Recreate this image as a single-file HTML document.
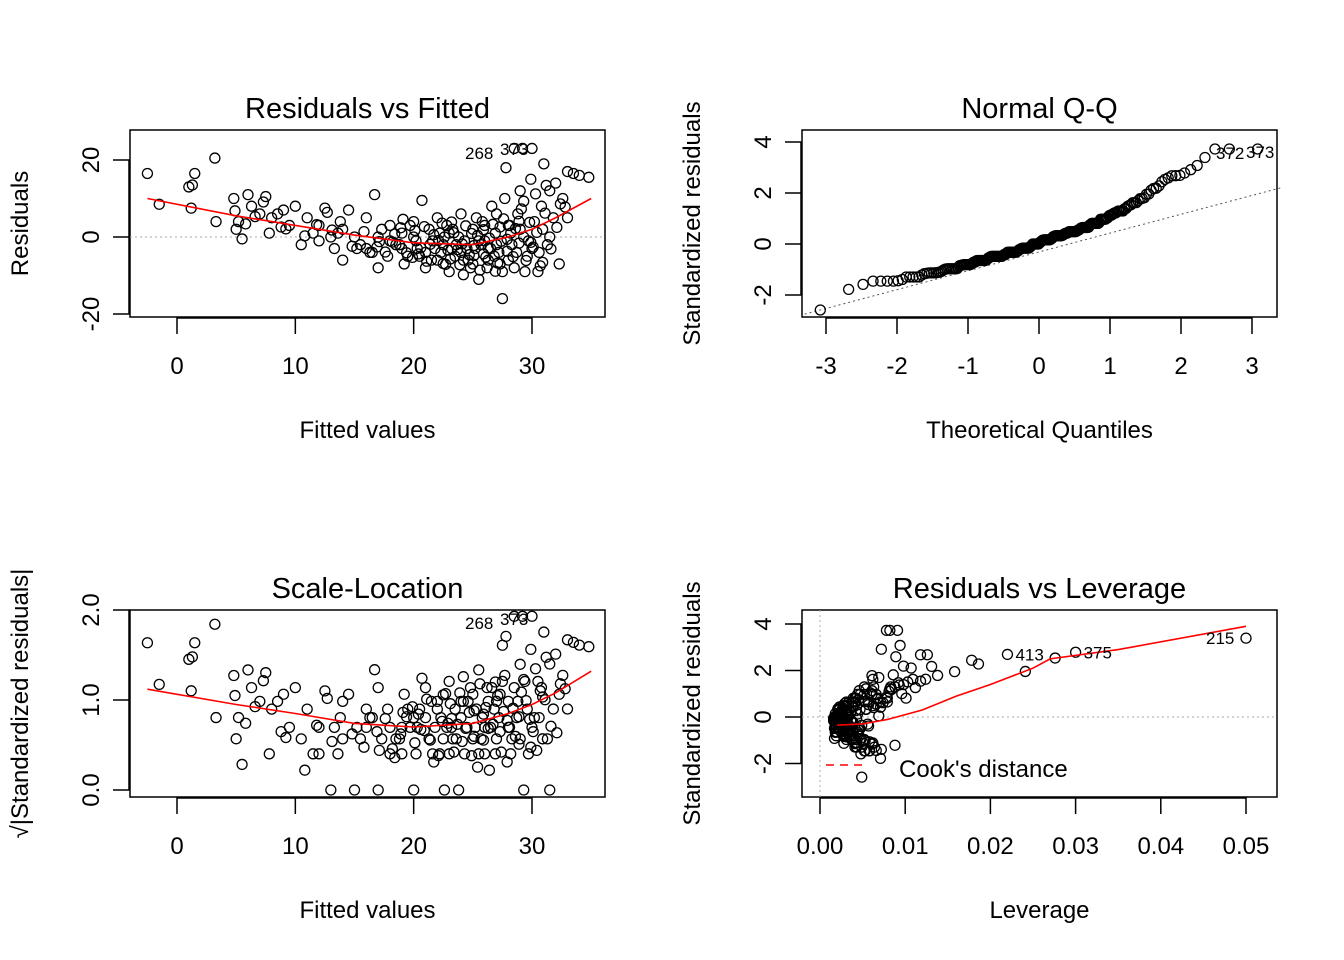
<!DOCTYPE html>
<html><head><meta charset="utf-8"><style>
html,body{margin:0;padding:0;background:#fff;width:1344px;height:960px;overflow:hidden}
svg{display:block;font-family:"Liberation Sans",Arial,sans-serif}
</style></head><body>
<svg id="chart" width="1344" height="960" viewBox="0 0 1344 960"></svg>
<script>
const fittedA=[-2.5,-1.5,1,1.3,1.5,1.2,3.2,3.3,4.8,5,5.2,5.5,6,6.3,7,7.5,7.8,8,8.5,9,9.5,10,10.5,11,11.5,12,12.5,13,13.3,13.8,14,14.5,15,15.5,16,16.3,16.7,17,17.3,17.8,18,18.5,19,19.2,19.7,20,20.3,20.7,21,21.3,21.6,22,22.3,22.6,23,23.3,23.6,24,24.3,24.6,25,25.2,25.5,25.8,26,26.3,26.6,26.9,27.2,27.5,27.7,28,28.3,28.5,28.8,29,29.3,29.6,29.9,30.2,30.5,30.8,31,31.3,31.5,31.8,32,32.3,32.6,33,33.5,34,34.8,33,31.5,30,28,26,24,22,20,18,16,14,12,17,19,21,23,25,27,29,27.8,28.5,29.2,30,20.5,21.5,22.5,23.5,24.5,25.5,26.5,27.5,24.8,23.8,26.2,28.2,29.4,30.6,22.8,21.8,25.3,27,28.7,18.8,19.5,20.2,22.2,23.2,24.2,25.7,26.8,27.3,28.1,29.7,30.9,16.5,15.2,13.6];
const residA=[16.5,8.5,13,13.5,16.5,7.5,20.5,4,10,2,4,-0.5,11,8,6,10.5,1,5,6,7,3,8,-2,5,1,-1,7.5,0,-3,4,-6,7,0,-2,5,-4,11,-8,2,-5,3,-2,1,-7,3,0,-3,9.5,-8,2,-1,5,-4,0,-9,2,-2,6,-1,-6,2,-3,-11,4,-1,-6,8,1,-4,-16,10,3,-2,-8,6,12,0,-5,15,4,-9,8,19,-2,12,5,14,-7,10,17,16.5,16,15.5,5,0,-3,-6,3,-4,-6,4,-1,-3,2,3,0,-3,-4,1,-7,-2,2,18,23,23,23,-5,-6,-2,-5,-3,-1,-3,-9,-8,0,-8,1,-9,-4,3,-3,5,6,-4,-2,-5,-1,1,-3,-6,-2,-5,-7,3,-1,2,-4,-3,1];
const leverageA=[0.0118,0.0093,0.0107,0.0098,0.0126,0.0082,0.05,0.0071,0.0062,0.0054,0.0079,0.0043,0.0061,0.0052,0.0044,0.0069,0.0033,0.0041,0.0052,0.0046,0.0031,0.0063,0.0027,0.0041,0.0022,0.0031,0.0054,0.0019,0.0028,0.0039,0.0052,0.0061,0.0021,0.0029,0.0042,0.0034,0.0138,0.0064,0.0023,0.0038,0.0031,0.0018,0.0024,0.0051,0.0029,0.0017,0.0027,0.0118,0.0043,0.0021,0.0016,0.0039,0.0031,0.0019,0.0058,0.0022,0.0026,0.0047,0.0018,0.0037,0.0029,0.0021,0.0071,0.0042,0.0017,0.0031,0.0088,0.0023,0.0038,0.0049,0.0109,0.0031,0.0021,0.0043,0.0061,0.0158,0.0028,0.0039,0.0178,0.0057,0.0052,0.0083,0.0094,0.0031,0.0241,0.0068,0.0186,0.0042,0.0124,0.03,0.022,0.0089,0.0276,0.0101,0.0033,0.0041,0.0048,0.0029,0.0019,0.0037,0.0031,0.0022,0.0018,0.0026,0.0039,0.0021,0.0017,0.0032,0.0024,0.0041,0.0033,0.0021,0.0072,0.0078,0.0082,0.0091,0.0029,0.0038,0.0023,0.0034,0.0019,0.0028,0.0022,0.0058,0.0049,0.0018,0.0041,0.0032,0.0053,0.0044,0.0027,0.0021,0.0079,0.0066,0.0033,0.0024,0.0029,0.0017,0.0032,0.0023,0.0041,0.0031,0.0019,0.0028,0.0062,0.0021,0.0047,0.0039,0.0028,0.0023];
const fittedB=[18.2,18.9,19.4,20.1,20.6,21.1,21.7,22.1,22.4,22.9,23.1,23.4,23.9,24.1,24.4,24.7,25.1,25.4,25.6,25.9,26.1,26.4,26.7,27.1,27.4,27.6,27.9,28.4,28.6,28.9,29.1,29.5,29.8,30.1,30.4,30.7,31.1,31.6,32.1,32.8,15.8,16.9,17.6,18.4,19.9,20.9,21.4,22.7,23.7,24.9,25.9,26.9,27.9,28.9,29.9,30.9,24.2,25.1,26.3,27.3,22.5,23.2,20.4,19.1,17.1,14.8,13.1,11.8,10.8,9.2,6.6,5.8,4.9,7.3,8.8,12.7,29.3,30.3,31.2,32.4];
const residB=[-1.3,2.4,-4.1,1.7,-2.8,-6.3,0.6,-0.9,3.6,-3.4,-5.7,1.1,-7.2,-1.8,2.9,-4.6,-2.2,0.4,-8.6,1.9,-5.2,-0.3,3.3,-6.8,-1.1,4.7,-3.7,-5.1,2.2,-1.6,7.3,-6.1,3.8,-2.6,1.2,-7.5,6.2,-3.1,2.5,7.8,1.4,-2.6,-3.9,0.8,-5.3,2.7,-1.9,-7.1,-3.3,0.9,-4.4,-8.9,-0.6,4.1,-1.4,-6.6,-9.8,-4.8,-2.9,2.6,-6.9,3.9,-4.4,4.6,-1.2,-2.4,1.8,3.2,0.3,2.1,5.3,3.4,6.8,9.1,2.6,6.4,9.3,11.2,13.4,8.6];
const leverageB=[0.0024,0.0031,0.0018,0.0042,0.0027,0.0053,0.0021,0.0036,0.0029,0.0045,0.0017,0.0033,0.0061,0.0022,0.0038,0.0026,0.0049,0.0019,0.0072,0.0034,0.0028,0.0016,0.0057,0.0043,0.0025,0.0067,0.0032,0.0046,0.0021,0.0039,0.0084,0.0051,0.0074,0.0029,0.0036,0.0088,0.0096,0.0047,0.0063,0.0112,0.0026,0.0035,0.0019,0.0044,0.0031,0.0023,0.0056,0.0041,0.0027,0.0018,0.0033,0.0066,0.0024,0.0052,0.0037,0.0058,0.0048,0.0029,0.0021,0.0039,0.0062,0.0034,0.0027,0.0045,0.0038,0.0057,0.0031,0.0043,0.0069,0.0054,0.0078,0.0066,0.0081,0.0092,0.0071,0.0059,0.0103,0.0086,0.0131,0.0098];
const labelIdx={6:"215",89:"375",90:"413"};
const loess1x=[-2.5,5,10,15,20,25,28,30,32,35];
const loess1y=[10,5.5,3,0.5,-1.5,-2,0,2,5,10];
const loess3x=[-2.5,5,10,15,20,25,28,30,32,35];
const loess3y=[1.12,0.95,0.85,0.74,0.7,0.74,0.85,0.95,1.08,1.32];
const loess4x=[0.002,0.005,0.008,0.012,0.016,0.02,0.025,0.027,0.035,0.05];
const loess4y=[-0.35,-0.3,-0.1,0.3,0.9,1.4,2.1,2.5,2.9,3.9];
const xTicks1=[0,10,20,30], yTicks1=[-20,0,20];
const xTicks2=[-3,-2,-1,0,1,2,3], yTicks2=[-2,0,2,4];
const yTicks3=[0.0,1.0,2.0];
const xTicks4=[0,0.01,0.02,0.03,0.04,0.05], yTicks4=[-2,0,2,4];
const sigma=6.2;

const fitted=fittedA.concat(fittedB), resid=residA.concat(residB), leverage=leverageA.concat(leverageB);
const svg=document.getElementById('chart');
const NS='http://www.w3.org/2000/svg';
function el(tag,attrs,parent,text){const e=document.createElementNS(NS,tag);for(const k in attrs)e.setAttribute(k,attrs[k]);if(text!==undefined)e.textContent=text;(parent||svg).appendChild(e);return e;}
function lin(d0,d1,r0,r1){return v=>r0+(v-d0)*(r1-r0)/(d1-d0);}

const lv=fitted.map((f,i)=>leverage[i]||0.004);
const stdr=resid.map((r,i)=>r/(sigma*Math.sqrt(1-lv[i])));

function panel(name,box,sx,sy,xt,yt,xfmt,yfmt,title,xlab,ylab){
  const g=el('g',{},svg);
  
  
  const t=el('text',{x:(box[0]+box[2])/2,y:box[1]-12,'text-anchor':'middle','font-size':29},g,title);
  
  const r=el('rect',{x:box[0],y:box[1],width:box[2]-box[0],height:box[3]-box[1],fill:'none',stroke:'#000','stroke-width':1.5},g);
  
  const xa=el('g',{},g);
  el('line',{x1:sx(xt[0]),x2:sx(xt[xt.length-1]),y1:box[3]+1,y2:box[3]+1,stroke:'#000','stroke-width':1.5},xa);
  xt.forEach(v=>{el('line',{x1:sx(v),x2:sx(v),y1:box[3],y2:box[3]+17,stroke:'#000','stroke-width':1.5},xa);
    el('text',{x:sx(v),y:box[3]+57,'text-anchor':'middle','font-size':24},xa,xfmt(v));});
  const ya=el('g',{},g);
  el('line',{x1:box[0]-1,x2:box[0]-1,y1:sy(yt[0]),y2:sy(yt[yt.length-1]),stroke:'#000','stroke-width':1.5},ya);
  yt.forEach(v=>{el('line',{x1:box[0]-17,x2:box[0],y1:sy(v),y2:sy(v),stroke:'#000','stroke-width':1.5},ya);
    el('text',{x:0,y:0,'text-anchor':'middle','font-size':24,transform:`translate(${box[0]-31},${sy(v)}) rotate(-90)`},ya,yfmt(v));});
  const xl=el('text',{x:(box[0]+box[2])/2,y:box[3]+121,'text-anchor':'middle','font-size':24},g,xlab);
  
  const yl=el('text',{x:0,y:0,'text-anchor':'middle','font-size':24,transform:`translate(${box[0]-102},${(box[1]+box[3])/2}) rotate(-90)`},g,ylab);
  
  return g;
}
function pts(g,xs,ys,sx,sy){xs.forEach((x,i)=>{const c=el('circle',{cx:sx(x),cy:sy(ys[i]),r:5,fill:'none',stroke:'#000','stroke-width':1.3},g);
  });}
function curve(g,xs,ys,sx,sy,attrs){const d=xs.map((x,i)=>(i?'L':'M')+sx(x)+','+sy(ys[i])).join('');
  const p=el('path',Object.assign({d,fill:'none'},attrs),g);return p;}
const f0=v=>String(v), f1=v=>v.toFixed(1), f2=v=>v.toFixed(2);

// Panel 1
{const box=[130,130,605,317];const sx=lin(0,30,177,532),sy=lin(0,20,237,160);
 const g=panel('residuals-vs-fitted',box,sx,sy,xTicks1,yTicks1,f0,f0,'Residuals vs Fitted','Fitted values','Residuals');
 el('line',{x1:box[0],x2:box[2],y1:sy(0),y2:sy(0),stroke:'#aaa','stroke-dasharray':'2,3'},g);
 pts(g,fitted,resid,sx,sy);
 curve(g,loess1x,loess1y,sx,sy,{stroke:'#f00','stroke-width':1.6});
 el('text',{x:465,y:159,'font-size':17},g,'268');el('text',{x:500,y:155,'font-size':17},g,'373');}
// Panel 2
{const box=[802,130,1277,317];const sx=lin(0,3,1039,1252),sy=lin(0,4,244,142);
 const g=panel('normal-qq',box,sx,sy,xTicks2,yTicks2,f0,f0,'Normal Q-Q','Theoretical Quantiles','Standardized residuals');
 const s=stdr.slice().sort((a,b)=>a-b),n=s.length;
 function qn(p){const a=[-39.6968,220.946,-275.929,138.358,-30.6648,2.50663],b=[-54.4761,161.586,-155.699,66.8013,-13.2806],c=[-0.00778489,-0.322396,-2.40076,-2.54973,4.37466,2.93816],d=[0.00778470,0.322467,2.44513,3.75441];
  if(p<0.02425){const q=Math.sqrt(-2*Math.log(p));return(((((c[0]*q+c[1])*q+c[2])*q+c[3])*q+c[4])*q+c[5])/((((d[0]*q+d[1])*q+d[2])*q+d[3])*q+1);}
  if(p>0.97575)return -qn(1-p);const q=p-0.5,r=q*q;return(((((a[0]*r+a[1])*r+a[2])*r+a[3])*r+a[4])*r+a[5])*q/(((((b[0]*r+b[1])*r+b[2])*r+b[3])*r+b[4])*r+1);}
 const th=s.map((v,i)=>qn((i+0.5)/n)*1.08);
 el('line',{x1:sx(-3.3),y1:sy(-2.75),x2:sx(3.4),y2:sy(2.2),stroke:'#555','stroke-dasharray':'2,3'},g);
 pts(g,th,s,sx,sy);
 el('text',{x:1216,y:159,'font-size':17},g,'372');el('text',{x:1246,y:158,'font-size':17},g,'373');}
// Panel 3
{const box=[130,610,605,797];const sx=lin(0,30,177,532),sy=lin(0,2,790,610);
 const g=panel('scale-location',box,sx,sy,xTicks1,yTicks3,f0,f1,'Scale-Location','Fitted values','\u221A|Standardized residuals|');
 pts(g,fitted,stdr.map(v=>Math.sqrt(Math.abs(v))),sx,sy);
 curve(g,loess3x,loess3y,sx,sy,{stroke:'#f00','stroke-width':1.6});
 el('text',{x:465,y:629,'font-size':17},g,'268');el('text',{x:500,y:625,'font-size':17},g,'373');}
// Panel 4
{const box=[802,610,1277,797];const sx=lin(0,0.05,820,1246),sy=lin(0,4,717,624);
 const g=panel('residuals-vs-leverage',box,sx,sy,xTicks4,yTicks4,f2,f0,'Residuals vs Leverage','Leverage','Standardized residuals');
 el('line',{x1:box[0],x2:box[2],y1:sy(0),y2:sy(0),stroke:'#aaa','stroke-dasharray':'2,3'},g);
 el('line',{x1:sx(0),x2:sx(0),y1:box[1],y2:box[3],stroke:'#aaa','stroke-dasharray':'2,3'},g);
 pts(g,lv,stdr,sx,sy);
 curve(g,loess4x,loess4y,sx,sy,{stroke:'#f00','stroke-width':1.6});
 Object.keys(labelIdx).forEach(i=>{const left=labelIdx[i]==="215";el('text',{x:sx(lv[i])+(left?-40:8),y:sy(stdr[i])+6,'font-size':17},g,labelIdx[i]);});
 el('line',{x1:826,x2:868,y1:765,y2:765,stroke:'#f00','stroke-width':1.6,'stroke-dasharray':'8,6'},g);
 const ck=el('text',{x:899,y:777,'font-size':24},g,"Cook's distance");}
</script>
</body></html>
